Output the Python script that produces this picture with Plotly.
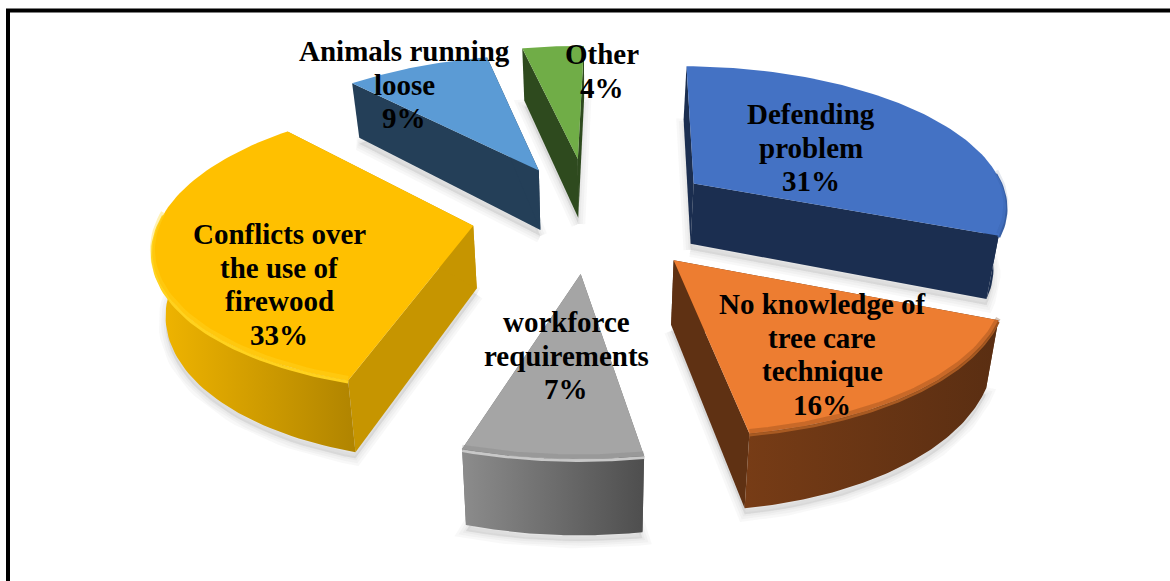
import numpy as np
import plotly.graph_objects as go

# ---- data ----
categories = ["Defending problem", "No knowledge of tree care technique",
              "workforce requirements", "Conflicts over the use of firewood",
              "Animals running loose", "Other"]
values = [31, 16, 7, 33, 9, 4]
explode = [0.40, 0.40, 0.40, 0.37, 0.36, 0.41]
radius = [0.99, 0.98, 1.0, 0.975, 1.0, 1.0]
top_colors = ["#4472C4", "#ED7D31", "#A5A5A5", "#FFC000", "#5B9BD5", "#70AD47"]
cut_colors = ["#1B2E50", "#5F3113", "#6E6E6E", "#C69500", "#243F58", "#2E4A1E"]
wall_left = ["#1B2E50", "#773C16", "#8C8C8C", "#F2B600", "#243F58", "#2E4A1E"]
wall_right = ["#1B2E50", "#5A2E12", "#4E4E4E", "#B08400", "#243F58", "#2E4A1E"]
rim_colors = ["#3A62A8", "#A85A22", "#C8C8C8", "#FFD21E", "#6FA8DA", "#80B95C"]
rim_over = ["rgba(40,70,130,0.12)", "rgba(120,60,20,0.30)", "rgba(120,120,120,0.25)",
            "rgba(255,215,40,0.35)", "rgba(0,0,0,0)", "rgba(0,0,0,0)"]
label_lines = [["Defending", "problem", "31%"],
               ["No knowledge of", "tree care", "technique", "16%"],
               ["workforce", "requirements", "7%"],
               ["Conflicts over", "the use of", "firewood", "33%"],
               ["Animals running", "loose", "9%"],
               ["Other", "4%"]]
label_x = [811, 822, 566, 279, 404, 602]
label_y = [114, 304, 322, 234, 51, 54]
line_pitch = 33.6

# ---- projection of the tilted pie onto the page ----
CX, CY, RX, RY, K, DEPTH, CONV = 590, 214, 320, 142, 0.135, 62, 0.03
# the 3-D view skews slice boundaries by a few degrees
edge_skew = [1, 0.4, 1.3, 3, 3.8, 2.2, 1]


def project(X, Y, z=0.0):
    w = 1 + K * Y
    return CX + (1 - CONV * z) * RX * X / w, CY - RY * Y / w + z * DEPTH / w


def pts(rad, ex, bis, z=0.0, r=1.0):
    t = np.asarray(rad, float)
    return project(ex * np.sin(bis) + r * np.sin(t), ex * np.cos(bis) + r * np.cos(t), z)


fig = go.Figure()


def poly(x, y, color=None, grad=None, line=None):
    x = np.append(x, x[0])
    y = np.append(y, y[0])
    kw = dict(x=x, y=y, mode="lines", fill="toself", hoverinfo="skip", showlegend=False)
    if grad:
        kw["fillgradient"] = dict(type="horizontal",
                                  colorscale=[[0, grad[0]], [1, grad[1]]])
    else:
        kw["fillcolor"] = color
    kw["line"] = dict(width=0 if line is None else line[1],
                      color=(color or grad[0]) if line is None else line[0])
    fig.add_trace(go.Scatter(**kw))


edges = np.radians(np.cumsum([0] + values) * 3.6 + np.array(edge_skew))
order = [5, 4, 0, 3, 2, 1]  # back slices first

# soft shadows on the page
for i in order:
    a0, a1 = edges[i], edges[i + 1]
    bis = (a0 + a1) / 2
    ex = explode[i]
    arc = np.linspace(a0, a1, 60)
    xa, ya = pts(arc, ex, bis, 1.0, r=radius[i])
    xc, yc = pts([0], ex, bis, 1.0, r=0)
    xs = np.r_[xc, xa]
    ys = np.r_[yc, ya] + 6
    for w in (14, 9, 4):
        poly(xs, ys, "rgba(120,120,120,0.05)", line=("rgba(120,120,120,0.05)", w))

for i in order:
    a0, a1 = edges[i], edges[i + 1]
    bis = (a0 + a1) / 2
    ex = explode[i]
    arc = np.linspace(a0, a1, 80)
    xt, yt = pts(arc, ex, bis, 0.0, r=radius[i])
    xb, yb = pts(arc, ex, bis, 1.0, r=radius[i])
    cxt, cyt = pts([0.0], ex, bis, 0.0, r=0)
    cxb, cyb = pts([0.0], ex, bis, 1.0, r=0)

    # cut faces
    for j in (0, -1):
        poly(np.r_[cxt, xt[j], xb[j], cxb], np.r_[cyt, yt[j], yb[j], cyb], cut_colors[i])

    # outer wall: only the part that faces the viewer
    idx = np.where(np.cos(arc) < 0.1)[0]
    if idx.size:
        poly(np.r_[xt[idx], xb[idx][::-1]], np.r_[yt[idx], yb[idx][::-1]],
             grad=(wall_left[i], wall_right[i]))
        fig.add_trace(go.Scatter(x=xt[idx], y=yt[idx] + 1.5, mode="lines", hoverinfo="skip",
                                 showlegend=False, line=dict(color=rim_colors[i], width=3)))

    # top face
    poly(np.r_[cxt, xt], np.r_[cyt, yt], top_colors[i])
    if idx.size:
        fig.add_trace(go.Scatter(x=xt[idx], y=yt[idx] - 2, mode="lines", hoverinfo="skip",
                                 showlegend=False, line=dict(color=rim_over[i], width=5)))

# frame
fig.add_shape(type="line", x0=6, x1=1170, y0=10.5, y1=10.5, line=dict(color="black", width=4))
fig.add_shape(type="line", x0=8, x1=8, y0=9, y1=581, line=dict(color="black", width=4))

for lines, lx, ly in zip(label_lines, label_x, label_y):
    for n, s in enumerate(lines):
        fig.add_annotation(x=lx, y=ly + n * line_pitch, text="<b>" + s + "</b>", showarrow=False,
                           xanchor="center", yanchor="middle",
                           font=dict(family="Liberation Serif", size=29, color="black"))

fig.update_layout(width=1170, height=581, margin=dict(l=0, r=0, t=0, b=0),
                  paper_bgcolor="white", plot_bgcolor="white", showlegend=False,
                  xaxis=dict(range=[0, 1170], visible=False, fixedrange=True),
                  yaxis=dict(range=[581, 0], visible=False, fixedrange=True))
fig.write_html("out.html", config={"displayModeBar": False},
               post_script="document.body.style.margin='0';document.body.style.overflow='hidden';")
